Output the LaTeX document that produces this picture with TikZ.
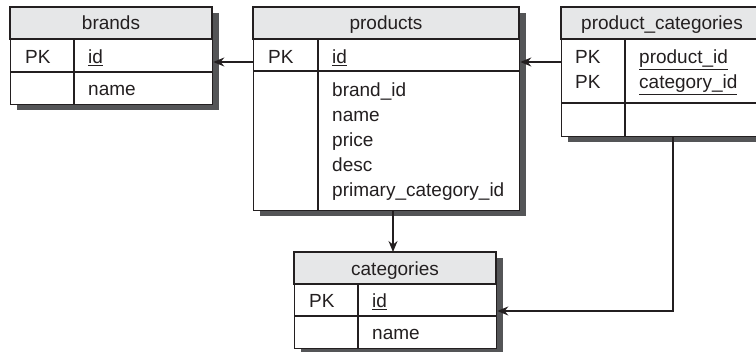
\documentclass[tikz,border=0pt]{standalone}
\usepackage{fontspec}
\setmainfont{Liberation Sans}
\usetikzlibrary{positioning, shadows, arrows.meta}
\definecolor{headgray}{HTML}{E6E7E8}
\definecolor{shadegray}{HTML}{545557}
\definecolor{ink}{HTML}{231F20}
\tikzset{
  tbl/.style={rectangle, draw=ink, line width=1.3pt, fill=white, anchor=north west, inner sep=0pt,
    general shadow={fill=shadegray, shadow xshift=6pt, shadow yshift=-5pt}},
  hd/.style={fill=headgray, draw=ink, line width=1.3pt},
  rule/.style={draw=ink, line width=1.2pt},
  fld/.style={font=\fontsize{19}{25}\selectfont, text=ink, inner sep=0pt, anchor=base west},
  ttl/.style={font=\fontsize{19}{25}\selectfont, text=ink, inner sep=0pt, anchor=base},
  fk/.style={draw=ink, line width=1.3pt, -{Stealth[length=11pt,width=9pt]}}}
\begin{document}
\begin{tikzpicture}[x=1pt, y=-1pt]
\useasboundingbox (0,0) rectangle (756,352);
\clip (0,0) rectangle (756,352);
% tables
\node[tbl, minimum width=202pt, minimum height=97pt] (brands) at (10,7) {};
\node[tbl, minimum width=266pt, minimum height=203pt] (products) at (253,7) {};
\node[tbl, minimum width=201pt, minimum height=129pt] (pcats) at (561,7) {};
\node[tbl, minimum width=202pt, minimum height=96pt] (categories) at (294,252) {};
% headers
\draw[hd] (10,7) rectangle (212,39);
\draw[hd] (253,7) rectangle (519,39);
\draw[hd] (561,7) rectangle (762,39);
\draw[hd] (294,252) rectangle (496,284);
% rows and dividers
\draw[rule] (10,72) -- (212,72) (74,39) -- (74,104);
\draw[rule] (253,71) -- (519,71) (318,39) -- (318,210);
\draw[rule] (561,103) -- (762,103) (625,39) -- (625,136);
\draw[rule] (294,316) -- (496,316) (358,284) -- (358,348);
% brands
\node[ttl] (brandsttl) at (111,30) {brands};
\node[fld] (brandspk) at (25,64) {PK};
\node[fld] (brandsid) at (88,64) {\underline{id}};
\node[fld] (brandsname) at (88,96) {name};
% products
\node[ttl] (productsttl) at (386,30) {products};
\node[fld] (productspk) at (268,64) {PK};
\node[fld] (productsid) at (332,64) {\underline{id}};
\foreach \f [count=\i] in {brand\_id, name, price, desc, primary\_category\_id}
  \node[fld] (productsf\i) at (332,72+25*\i) {\f};
% product_categories
\node[ttl] (pcatsttl) at (662,30) {product\_categories};
\node[fld] (pcatspka) at (575,64) {PK};
\node[fld] (pcatspkb) at (575,89) {PK};
\node[fld] (pcatsprod) at (639,64) {\underline{product\_id}};
\node[fld] (pcatscat) at (639,89) {\underline{category\_id}};
% categories
\node[ttl] (categoriesttl) at (395,276) {categories};
\node[fld] (categoriespk) at (309,308) {PK};
\node[fld] (categoriesid) at (372,308) {\underline{id}};
\node[fld] (categoriesname) at (372,340) {name};
% relations
\coordinate (fky) at (0,62);
\coordinate (catx) at (393,0);
\coordinate (pcx) at (673,0);
\coordinate (caty) at (0,311);
\draw[fk] (products.west |- fky) -- (brands.east |- fky);
\draw[fk] (pcats.west |- fky) -- (products.east |- fky);
\draw[fk] (products.south -| catx) -- (categories.north -| catx);
\draw[fk] (pcats.south -| pcx) |- (categories.east |- caty);
\end{tikzpicture}
\end{document}
